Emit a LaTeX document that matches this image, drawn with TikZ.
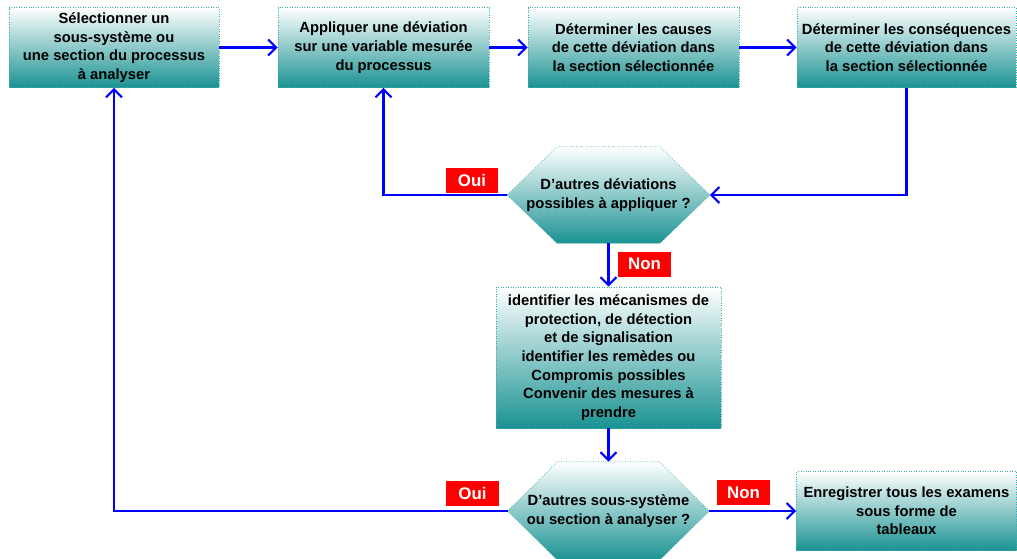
\documentclass[tikz,border=0pt]{standalone}
\usepackage{fontspec}
\setmainfont{Liberation Sans}
\usetikzlibrary{arrows.meta, backgrounds}
\definecolor{flowline}{RGB}{0,0,255}
\definecolor{boxteal}{RGB}{26,146,146}
\definecolor{boxedge}{RGB}{60,172,172}
\definecolor{tagred}{RGB}{255,0,0}
\tikzset{stepbox/.style={rectangle,
draw=boxedge, densely dotted,
top color=white, bottom color=boxteal,
align=center, inner sep=1pt,
font=\fontsize{8.4}{10.6}\selectfont\bfseries}}
\tikzset{choice/.style={rectangle,
align=center, inner sep=1pt,
font=\fontsize{8.4}{10.6}\selectfont\bfseries}}
\tikzset{choiceedge/.style={draw=boxedge, densely dotted,
top color=white, bottom color=boxteal}}
\tikzset{tag/.style={rectangle, fill=tagred, text=white,
minimum width=1.05cm, minimum height=0.5cm, inner sep=0pt,
font=\fontsize{9.6}{11}\selectfont\bfseries}}
\tikzset{flow/.style={draw=flowline, line width=1.2pt,
-{Straight Barb[length=1.6mm, width=3.2mm]}}}
\newcommand{\hexback}[1]{\shadedraw[choiceedge] (#1.west) -- ([xshift=1cm]#1.north west) -- ([xshift=-1cm]#1.north east) -- (#1.east) -- ([xshift=-1cm]#1.south east) -- ([xshift=1cm]#1.south west) -- cycle;}

\begin{document}
\begin{tikzpicture}[
]
\useasboundingbox (0,0) rectangle (20.34,-11.16);

\node[stepbox,
minimum width = 4.2cm,
minimum height = 1.6cm] (sel) at (2.28,-0.95) {Sélectionner un\\sous-système ou\\une section du processus\\à analyser};

\node[stepbox,
minimum width = 4.22cm,
minimum height = 1.6cm] (app) at (7.67,-0.95) {Appliquer une déviation\\sur une variable mesurée\\du processus};

\node[stepbox,
minimum width = 4.22cm,
minimum height = 1.6cm] (cau) at (12.67,-0.95) {Déterminer les causes\\de cette déviation dans\\la section sélectionnée};

\node[stepbox,
minimum width = 4.38cm,
minimum height = 1.6cm] (cons) at (18.13,-0.95) {Déterminer les conséquences\\de cette déviation dans\\la section sélectionnée};

\node[choice,
minimum width = 4.04cm,
minimum height = 1.92cm] (dev) at (12.17,-3.9) {D’autres déviations\\possibles à appliquer ?};

\node[stepbox,
minimum width = 4.5cm,
minimum height = 2.82cm] (ident) at (12.17,-7.15) {identifier les mécanismes de\\protection, de détection\\et de signalisation\\identifier les remèdes ou\\Compromis possibles\\Convenir des mesures à\\prendre};

\node[choice,
minimum width = 4.02cm,
minimum height = 1.96cm] (sub) at (12.17,-10.22) {D’autres sous-système\\ou section à analyser ?};

\node[stepbox,
minimum width = 4.4cm,
minimum height = 1.58cm] (fin) at (18.13,-10.22) {Enregistrer tous les examens\\sous forme de\\tableaux};

\begin{pgfonlayer}{background}
\hexback{dev}
\hexback{sub}
\end{pgfonlayer}

\node[tag] (oui1) at (9.44,-3.6) {Oui};
\node[tag] (non1) at (12.89,-5.28) {Non};
\node[tag] (oui2) at (9.45,-9.87) {Oui};
\node[tag] (non2) at (14.87,-9.85) {Non};

\draw [flow] (sel) -- (app);
\draw [flow] (app) -- (cau);
\draw [flow] (cau) -- (cons);
\draw [flow] (cons.south) |- (dev.east);
\draw [flow] (dev.west) -| (app.south);
\draw [flow] (dev.south) -- (ident.north);
\draw [flow] (ident.south) -- (sub.north);
\draw [flow] (sub.west) -| (sel.south);
\draw [flow] (sub.east) -- (fin.west);

\end{tikzpicture}
\end{document}
